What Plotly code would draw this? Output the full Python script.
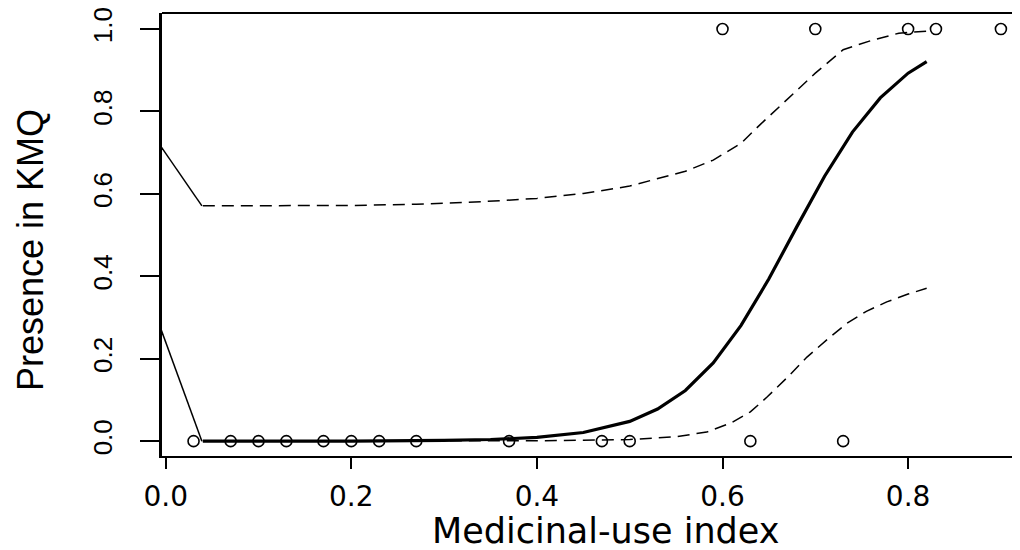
import plotly.graph_objects as go

# Observed data points (presence 0 / 1)
absent_x = [0.03, 0.07, 0.10, 0.13, 0.17, 0.20, 0.23, 0.27, 0.37, 0.47, 0.50, 0.63, 0.73]
absent_y = [0, 0, 0, 0, 0, 0, 0, 0, 0, 0, 0, 0, 0]
present_x = [0.60, 0.70, 0.80, 0.83, 0.90]
present_y = [1, 1, 1, 1, 1]

# Fitted curve
fit_x = [0.04, 0.10, 0.20, 0.30, 0.35, 0.40, 0.45, 0.50, 0.53, 0.56, 0.59, 0.62,
         0.65, 0.68, 0.71, 0.74, 0.77, 0.80, 0.82]
fit_y = [0.000, 0.000, 0.000, 0.002, 0.004, 0.009, 0.021, 0.048, 0.078, 0.123, 0.190,
         0.281, 0.394, 0.520, 0.643, 0.750, 0.833, 0.893, 0.921]

# Upper confidence band
up_x = [0.04, 0.10, 0.20, 0.27, 0.34, 0.40, 0.45, 0.50, 0.56, 0.59, 0.62, 0.64,
        0.67, 0.70, 0.73, 0.76, 0.79, 0.82]
up_y = [0.571, 0.571, 0.572, 0.575, 0.581, 0.589, 0.601, 0.619, 0.655, 0.682, 0.723,
        0.767, 0.830, 0.893, 0.950, 0.972, 0.990, 0.995]

# Lower confidence band
lo_x = [0.04, 0.20, 0.30, 0.40, 0.50, 0.55, 0.583, 0.61, 0.63, 0.648, 0.67, 0.691,
        0.713, 0.734, 0.755, 0.777, 0.80, 0.82]
lo_y = [0.0, 0.0, 0.0, 0.001, 0.004, 0.011, 0.022, 0.045, 0.071, 0.107, 0.155, 0.204,
        0.247, 0.286, 0.315, 0.338, 0.357, 0.371]

# Short solid segments at the left edge
seg_up_x = [-0.01, 0.039]
seg_up_y = [0.731, 0.571]
seg_lo_x = [-0.01, 0.039]
seg_lo_y = [0.302, 0.0]

x_ticks = [0.0, 0.2, 0.4, 0.6, 0.8]
x_ticktext = ["0.0", "0.2", "0.4", "0.6", "0.8"]
y_ticks = [0.0, 0.2, 0.4, 0.6, 0.8, 1.0]
y_ticktext = ["0.0", "0.2", "0.4", "0.6", "0.8", "1.0"]

x_title = "Medicinal-use index"
y_title = "Presence in KMQ"

# Layout geometry (the page body adds an 8px offset)
W, H = 1020, 550
ML, MR, MT, MB = 154, 0, 5, 102
PLOT_L, PLOT_B = 8 + ML, 8 + H - MB
PW, PH = W - ML - MR, H - MT - MB


def px_x(sx):
    return (sx - PLOT_L) / PW


def px_y(sy):
    return (PLOT_B - sy) / PH


fig = go.Figure()

dash = "12px,7px"
fig.add_trace(go.Scatter(x=up_x, y=up_y, mode="lines",
                         line=dict(color="black", width=1.5, dash=dash)))
fig.add_trace(go.Scatter(x=lo_x, y=lo_y, mode="lines",
                         line=dict(color="black", width=1.5, dash=dash)))
fig.add_trace(go.Scatter(x=seg_up_x, y=seg_up_y, mode="lines",
                         line=dict(color="black", width=1.5)))
fig.add_trace(go.Scatter(x=seg_lo_x, y=seg_lo_y, mode="lines",
                         line=dict(color="black", width=1.5)))
fig.add_trace(go.Scatter(x=fit_x, y=fit_y, mode="lines",
                         line=dict(color="black", width=3.2)))
fig.add_trace(go.Scatter(x=absent_x + present_x, y=absent_y + present_y, mode="markers",
                         marker=dict(symbol="circle-open", size=11, color="black",
                                     line=dict(color="black", width=1.6)),
                         cliponaxis=False))

x0 = -0.004
fig.update_layout(
    width=W, height=H,
    margin=dict(l=ML, r=MR, t=MT, b=MB),
    plot_bgcolor="white", paper_bgcolor="white",
    showlegend=False,
    xaxis=dict(
        range=[x0, x0 + PW / 928.0], tickvals=x_ticks, ticktext=x_ticktext,
        ticks="outside", ticklen=11, tickwidth=1.5, tickcolor="black",
        showline=True, linecolor="black", linewidth=2,
        showgrid=False, zeroline=False, automargin=False,
        ticklabelstandoff=3, ticklabeloverflow="allow",
        tickfont=dict(family="DejaVu Sans", size=28, color="black"),
    ),
    yaxis=dict(
        range=[-0.036, 1.039], tickvals=y_ticks, ticktext=y_ticktext,
        ticks="outside", ticklen=19, tickwidth=1.5, tickcolor="black",
        tickangle=-90,
        showline=True, linecolor="black", linewidth=2.5,
        showgrid=False, zeroline=False, automargin=False,
        ticklabelstandoff=18, ticklabeloverflow="allow",
        tickfont=dict(family="Liberation Sans", size=26, color="black"),
    ),
    shapes=[dict(type="line", xref="paper", yref="paper", x0=0, x1=1, y0=1, y1=1,
                 line=dict(color="black", width=2))],
    annotations=[
        dict(text=x_title, xref="paper", yref="paper",
             x=px_x(605), y=px_y(531),
             xanchor="center", yanchor="middle", showarrow=False,
             font=dict(family="DejaVu Sans", size=35, color="black")),
        dict(text=y_title, xref="paper", yref="paper", textangle=-90,
             x=px_x(30), y=px_y(250),
             xanchor="center", yanchor="middle", showarrow=False,
             font=dict(family="Liberation Sans", size=36, color="black")),
    ],
)

fig.write_html("out.html")
